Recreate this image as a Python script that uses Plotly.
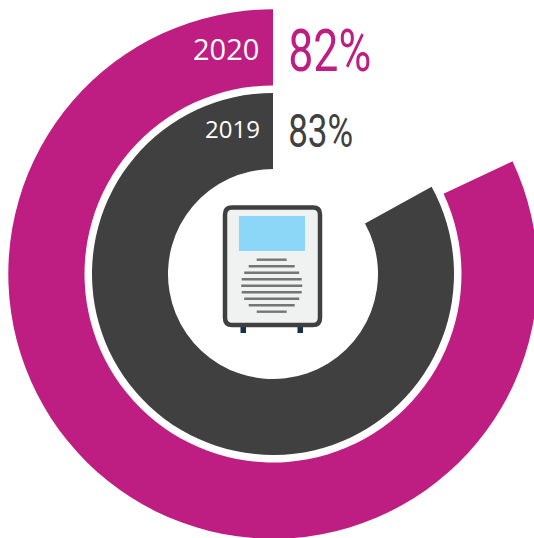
import plotly.graph_objects as go

# Share per year and the ring styling
years = ["2020", "2019"]
shares = [82, 83]
ring_colors = ["#BE1E82", "#404040"]
year_font_sizes = [29, 24]
pct_font_sizes = [60, 47]
pct_widths = [83, 65]

# Ring geometry in page pixels
W, H = 546, 548
CX, CY = 273, 274
radii = [(188.5, 264.7), (105, 181)]


def px(x):
    return x / W


def py(y):
    return 1 - y / H


fig = go.Figure()
for year, share, color, (r_in, r_out) in zip(years, shares, ring_colors, radii):
    fig.add_trace(go.Pie(
        values=[100 - share, share],
        labels=["rest", year],
        sort=False,
        direction="clockwise",
        rotation=0,
        hole=r_in / r_out,
        marker=dict(colors=["rgba(0,0,0,0)", color], line=dict(width=0)),
        textinfo="none",
        hoverinfo="label+percent",
        showlegend=False,
        domain=dict(x=[px(CX - r_out), px(CX + r_out)],
                    y=[py(CY + r_out), py(CY - r_out)]),
    ))

# Air purifier icon in the centre of the rings
shapes = []


def rect(x0, y0, x1, y1, fill):
    shapes.append(dict(type="rect", xref="paper", yref="paper",
                       x0=px(x0), x1=px(x1), y0=py(y0), y1=py(y1),
                       fillcolor=fill, line=dict(color=fill, width=0), layer="above"))


def rounded(x0, y0, x1, y1, r, fill, line, lw):
    path = (f"M {px(x0 + r)} {py(y0)} L {px(x1 - r)} {py(y0)} "
            f"Q {px(x1)} {py(y0)} {px(x1)} {py(y0 + r)} L {px(x1)} {py(y1 - r)} "
            f"Q {px(x1)} {py(y1)} {px(x1 - r)} {py(y1)} L {px(x0 + r)} {py(y1)} "
            f"Q {px(x0)} {py(y1)} {px(x0)} {py(y1 - r)} L {px(x0)} {py(y0 + r)} "
            f"Q {px(x0)} {py(y0)} {px(x0 + r)} {py(y0)} Z")
    shapes.append(dict(type="path", xref="paper", yref="paper", path=path,
                       fillcolor=fill, line=dict(color=line, width=lw), layer="above"))


rect(240.5, 326, 246, 333, "#14304A")
rect(297.5, 326, 303, 333, "#14304A")
rounded(225, 207.5, 320, 325, 7, "#F0F1F1", "#404040", 4.5)
rect(239, 216, 305, 251, "#8CD6F8")

grille_half = [15, 23, 27.5, 30, 30.5, 30, 27.5, 23, 15]
for i, half in enumerate(grille_half):
    yc = 259.7 + i * 6.5
    shapes.append(dict(type="line", xref="paper", yref="paper",
                       x0=px(271.7 - half), x1=px(271.7 + half), y0=py(yc), y1=py(yc),
                       line=dict(color="#757575", width=2.4), layer="above"))

annotations = []
for year, share, color, fs, pfs, w, y_year, y_pct, right in zip(
        years, shares, ring_colors, year_font_sizes, pct_font_sizes, pct_widths,
        [48, 128.5], [50.5, 130], [260.5, 261.5]):
    annotations.append(dict(text=year, xref="paper", yref="paper", x=px(right), y=py(y_year),
                            xanchor="right", yanchor="middle", showarrow=False,
                            font=dict(family="Open Sans", size=fs, color="white")))
    annotations.append(dict(text=f"{share}%", xref="paper", yref="paper", x=px(287.5 + w / 2), y=py(y_pct),
                            xanchor="center", yanchor="middle", showarrow=False,
                            font=dict(family="Roboto", size=pfs, color=color, weight=400)))

fig.update_layout(width=W, height=H, margin=dict(l=0, r=0, t=0, b=0),
                  paper_bgcolor="white", shapes=shapes, annotations=annotations)

# The percentages use a condensed setting of the type; the page itself stays window sized
labels_js = ",".join(f"'{s}%':{w}" for s, w in zip(shares, pct_widths))
post = f"""
document.documentElement.style.overflow='hidden';
document.body.style.overflow='hidden';
var widths={{{labels_js}}};
document.querySelectorAll('.annotation-text').forEach(function(t){{
  var w=widths[t.textContent];
  if(w){{t.setAttribute('textLength',w);t.setAttribute('lengthAdjust','spacingAndGlyphs');}}
}});
"""
fig.write_html("out.html", post_script=post)
